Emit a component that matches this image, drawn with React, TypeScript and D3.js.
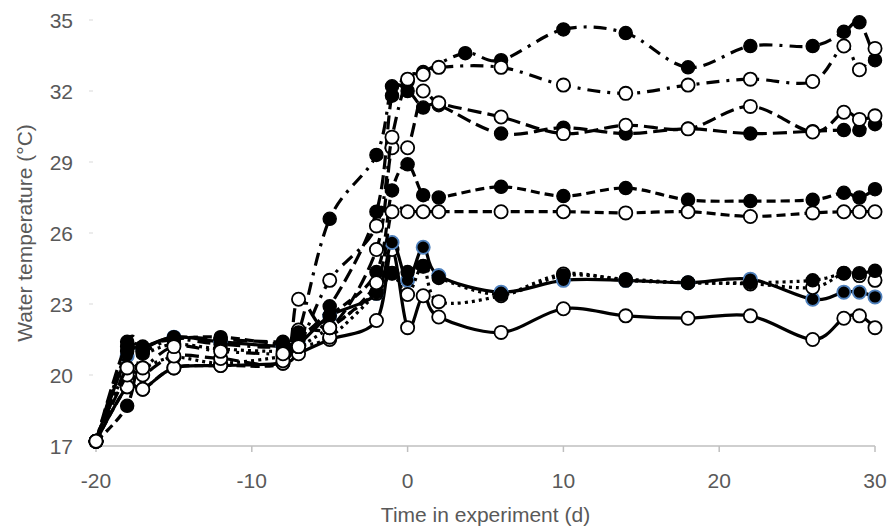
import React, { useEffect, useRef } from 'react';
import * as d3 from 'd3';

// sampling days (d)
const days = [-20, -18, -17, -15, -12, -8, -7, -5, -2, -1, 0, 1, 2, 6, 10, 14, 18, 22, 26, 28, 29, 30];
// the warmest filled series has its third post-zero reading a bit later
const daysDashDotFilled = [-20, -18, -17, -15, -12, -8, -7, -5, -2, -1, 0, 1, 3.7, 6, 10, 14, 18, 22, 26, 28, 29, 30];

// water temperature (°C) per treatment
const dashDotFilled = [17.2, 21.2, 21.0, 21.5, 21.3, 21.2, 21.8, 26.6, 29.3, 32.2, 32.4, 32.8, 33.6, 33.3, 34.6, 34.45, 33.0, 33.9, 33.9, 34.5, 34.9, 33.3];
const dashDotOpen = [17.2, 20.3, 20.3, 21.2, 21.0, 20.9, 21.2, 24.0, 26.3, 30.05, 32.5, 32.7, 33.0, 33.0, 32.25, 31.9, 32.25, 32.5, 32.4, 33.9, 32.9, 33.8];
const longDashFilled = [17.2, 21.4, 21.2, 21.6, 21.5, 21.4, 21.6, 22.9, 26.9, 31.8, 32.0, 31.3, 31.4, 30.2, 30.45, 30.2, 30.4, 30.2, 30.3, 30.35, 30.35, 30.6];
const longDashOpen = [17.2, 20.0, 20.0, 20.8, 20.7, 20.6, 23.2, 22.0, 25.3, 29.6, 29.6, 32.0, 31.5, 30.9, 30.2, 30.55, 30.4, 31.35, 30.27, 31.1, 30.8, 30.95];
const shortDashFilled = [17.2, 18.7, 21.0, 21.5, 21.6, 21.3, 21.5, 22.5, 24.35, 27.8, 28.9, 27.6, 27.5, 27.95, 27.56, 27.9, 27.4, 27.35, 27.4, 27.7, 27.5, 27.85];
const shortDashOpen = [17.2, 19.5, 19.4, 20.3, 20.4, 20.5, 21.9, 22.0, 23.9, 26.9, 26.9, 26.9, 26.9, 26.9, 26.9, 26.85, 26.9, 26.7, 26.85, 26.9, 26.9, 26.9];
const dottedFilled = [17.2, 21.0, 20.9, 21.3, 21.1, 21.0, 21.2, 22.0, 23.5, 24.3, 24.35, 24.6, 24.1, 23.4, 24.2, 24.05, 23.9, 23.9, 24.0, 24.3, 24.3, 24.4];
const dottedOpen = [17.2, 20.3, 20.3, 20.75, 20.5, 20.8, 21.2, 21.6, 23.45, 24.3, 23.4, 24.6, 23.1, 23.35, 24.27, 24.0, 23.9, 23.85, 23.7, 24.3, 24.2, 24.0];
const solidFilled = [17.2, 20.8, 21.1, 21.6, 21.4, 21.2, 21.3, 22.5, 23.45, 25.6, 24.0, 25.4, 24.2, 23.5, 24.0, 24.0, 23.9, 24.05, 23.2, 23.5, 23.5, 23.3];
const solidOpen = [17.2, 19.5, 19.4, 20.3, 20.4, 20.5, 20.9, 21.5, 22.3, 25.3, 22.0, 23.35, 22.45, 21.8, 22.8, 22.5, 22.4, 22.5, 21.5, 22.4, 22.5, 22.0];

const xTicks = [-20, -10, 0, 10, 20, 30];
const yTicks = [17, 20, 23, 26, 29, 32, 35];

const series = [
  { values: solidOpen, days, dash: null, marker: 'open' },
  { values: solidFilled, days, dash: null, marker: 'blue' },
  { values: dottedOpen, days, dash: '3,4', marker: 'open' },
  { values: dottedFilled, days, dash: '3,4', marker: 'filled' },
  { values: shortDashFilled, days, dash: '9,5', marker: 'filled' },
  { values: shortDashOpen, days, dash: '9,5', marker: 'open' },
  { values: longDashFilled, days, dash: '14,6', marker: 'filled' },
  { values: longDashOpen, days, dash: '14,6', marker: 'open' },
  { values: dashDotFilled, days: daysDashDotFilled, dash: '13,7,3,7', marker: 'filled' },
  { values: dashDotOpen, days, dash: '13,7,3,7', marker: 'open' },
];

const App: React.FC = () => {
  const svgRef = useRef<SVGSVGElement>(null);
  const width = 888;
  const height = 531;

  useEffect(() => {
    const svg = d3.select(svgRef.current);
    svg.selectAll('*').remove();

    const x = d3.scaleLinear().domain([-20, 30]).range([96, 875]);
    const y = d3.scaleLinear().domain([17, 35]).range([446, 20]);

    const font = '"Liberation Sans", Arial, sans-serif';
    const textColor = '#595959';

    // x axis line + ticks
    svg.append('line')
      .attr('x1', x(-20) - 6).attr('x2', x(30))
      .attr('y1', y(17)).attr('y2', y(17))
      .attr('stroke', '#bfbfbf').attr('stroke-width', 1.5);

    svg.selectAll('.xtick')
      .data(xTicks)
      .enter()
      .append('line')
      .attr('x1', d => x(d)).attr('x2', d => x(d))
      .attr('y1', y(17)).attr('y2', y(17) + 6)
      .attr('stroke', '#bfbfbf').attr('stroke-width', 1.5);

    svg.selectAll('.xlabel')
      .data(xTicks)
      .enter()
      .append('text')
      .attr('x', d => x(d))
      .attr('y', 488)
      .attr('text-anchor', 'middle')
      .style('font-family', font)
      .style('font-size', '21px')
      .style('fill', textColor)
      .text(d => d);

    // y ticks (small marks only)
    svg.selectAll('.ytick')
      .data(yTicks)
      .enter()
      .append('line')
      .attr('x1', x(-20) - 7).attr('x2', x(-20) - 3)
      .attr('y1', d => y(d)).attr('y2', d => y(d))
      .attr('stroke', '#d9d9d9').attr('stroke-width', 1);

    svg.selectAll('.ylabel')
      .data(yTicks)
      .enter()
      .append('text')
      .attr('x', 73)
      .attr('y', d => y(d) + 7.5)
      .attr('text-anchor', 'end')
      .style('font-family', font)
      .style('font-size', '21px')
      .style('fill', textColor)
      .text(d => d);

    // axis titles
    svg.append('text')
      .attr('x', (x(-20) + x(30)) / 2)
      .attr('y', 522)
      .attr('text-anchor', 'middle')
      .style('font-family', font)
      .style('font-size', '21px')
      .style('fill', textColor)
      .text('Time in experiment (d)');

    svg.append('text')
      .attr('transform', `translate(32, ${y(26)}) rotate(-90)`)
      .attr('text-anchor', 'middle')
      .style('font-family', font)
      .style('font-size', '21px')
      .style('fill', textColor)
      .text('Water temperature (°C)');

    const plot = svg.append('g');

    series.forEach(s => {
      const line = d3.line<number>()
        .x((d, i) => x(s.days[i]))
        .y(d => y(d))
        .curve(d3.curveCardinal.tension(0));

      plot.append('path')
        .datum(s.values)
        .attr('d', line)
        .attr('fill', 'none')
        .attr('stroke', '#000')
        .attr('stroke-width', 3.2)
        .attr('stroke-dasharray', s.dash)
        .attr('stroke-linejoin', 'round');

      plot.selectAll(null)
        .data(s.values)
        .enter()
        .append('circle')
        .attr('cx', (d, i) => x(s.days[i]))
        .attr('cy', d => y(d))
        .attr('r', 6.6)
        .attr('fill', s.marker === 'open' ? '#fff' : '#000')
        .attr('stroke', s.marker === 'blue' ? '#4f81bd' : '#000')
        .attr('stroke-width', s.marker === 'open' ? 1.8 : s.marker === 'blue' ? 1.8 : 1.3);
    });
  }, []);

  return (
    <svg
      ref={svgRef}
      width={width}
      height={height}
      style={{ position: 'absolute', left: 0, top: 0, background: '#fff' }}
    />
  );
};

export default App;
